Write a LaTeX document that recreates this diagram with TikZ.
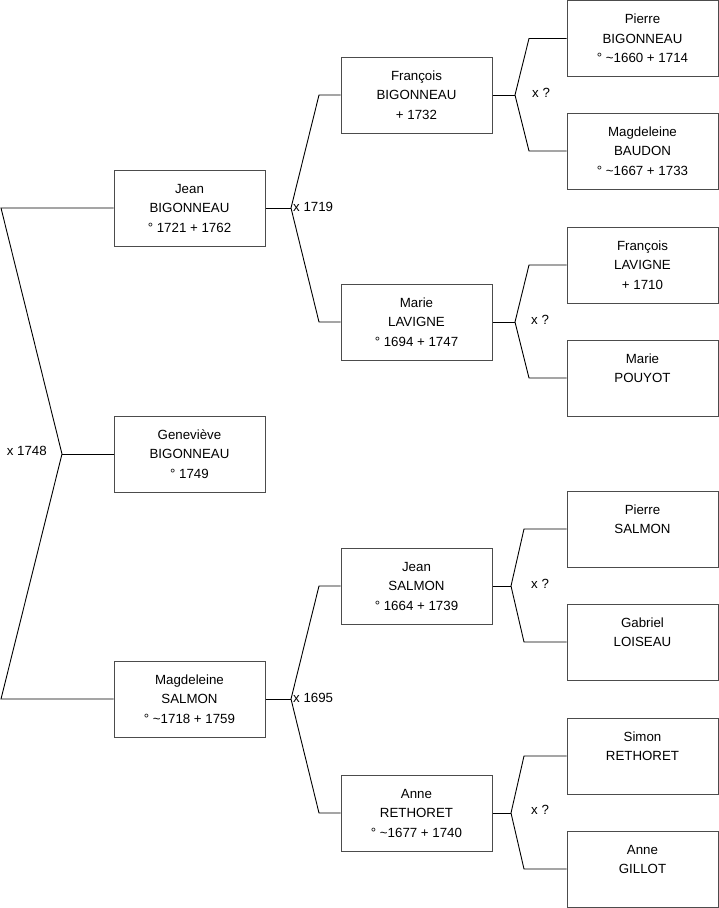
\documentclass[tikz,border=0pt]{standalone}
\usepackage{fontspec}
\setmainfont{Liberation Sans}
\begin{document}
\begin{tikzpicture}[x=1pt,y=-1pt,
 person/.style={draw=black!70, line width=1pt, minimum width=151pt, minimum height=76pt, inner sep=0pt, align=center, font=\fontsize{13.3}{19.5}\selectfont},
 link/.style={draw=black, line width=0.9pt},
 lbl/.style={font=\fontsize{13.3}{15}\selectfont, inner sep=0pt}]
\useasboundingbox (0,0) rectangle (719,908);
% generation 1
\node[person] (jean) at (189.5,208) {Jean\\BIGONNEAU\\° 1721 + 1762};
\node[person] (gene) at (189.5,454) {Geneviève\\BIGONNEAU\\° 1749};
\node[person] (magd) at (189.5,699) {Magdeleine\\SALMON\\° \textasciitilde1718 + 1759};
% generation 2
\node[person] (fran) at (416.5,95) {François\\BIGONNEAU\\+ 1732};
\node[person] (marie) at (416.5,322) {Marie\\LAVIGNE\\° 1694 + 1747};
\node[person] (jeans) at (416.5,586) {Jean\\SALMON\\° 1664 + 1739};
\node[person] (anne) at (416.5,813) {Anne\\RETHORET\\° \textasciitilde1677 + 1740};
% generation 3
\node[person] (pierre) at (642.5,38.5) {Pierre\\BIGONNEAU\\° \textasciitilde1660 + 1714};
\node[person] (baud) at (642.5,151) {Magdeleine\\BAUDON\\° \textasciitilde1667 + 1733};
\node[person] (franl) at (642.5,265) {François\\LAVIGNE\\+ 1710};
\node[person] (pouy) at (642.5,378) {Marie\\POUYOT\\\mbox{}};
\node[person] (pierres) at (642.5,529) {Pierre\\SALMON\\\mbox{}};
\node[person] (gab) at (642.5,642) {Gabriel\\LOISEAU\\\mbox{}};
\node[person] (simon) at (642.5,756) {Simon\\RETHORET\\\mbox{}};
\node[person] (gill) at (642.5,869) {Anne\\GILLOT\\\mbox{}};
% level 1 bracket
\coordinate (a1) at (1,208);
\coordinate (m1) at (62,454);
\coordinate (a2) at (1,699);
\draw[link] (jean.west) -- (a1) -- (m1) -- (a2) -- (magd.west);
\draw[link] (m1) -- (gene.west);
\node[lbl, anchor=east] (l1) at (47,451) {x 1748};
% level 2 upper
\coordinate (p1) at (291,208);
\coordinate (c1) at (319,95);
\coordinate (c2) at (319,322);
\draw[link] (jean.east) -- (p1);
\draw[link] (fran.west) -- (c1) -- (p1) -- (c2) -- (marie.west);
\node[lbl, anchor=west] (l2) at (293,207) {x 1719};
% level 2 lower
\coordinate (p2) at (291,699);
\coordinate (c3) at (319,586);
\coordinate (c4) at (319,813);
\draw[link] (magd.east) -- (p2);
\draw[link] (jeans.west) -- (c3) -- (p2) -- (c4) -- (anne.west);
\node[lbl, anchor=west] (l3) at (293,698) {x 1695};
% level 3
\coordinate (q1) at (515,95);
\coordinate (d1) at (529,38.5);
\coordinate (d2) at (529,151);
\draw[link] (fran.east) -- (q1);
\draw[link] (pierre.west) -- (d1) -- (q1) -- (d2) -- (baud.west);
\node[lbl, anchor=west] (l4) at (532,93) {x ?};
\coordinate (q2) at (515,322);
\coordinate (d3) at (529,265);
\coordinate (d4) at (529,378);
\draw[link] (marie.east) -- (q2);
\draw[link] (franl.west) -- (d3) -- (q2) -- (d4) -- (pouy.west);
\node[lbl, anchor=west] (l5) at (531,320) {x ?};
\coordinate (q3) at (511,586);
\coordinate (d5) at (524,529);
\coordinate (d6) at (524,642);
\draw[link] (jeans.east) -- (q3);
\draw[link] (pierres.west) -- (d5) -- (q3) -- (d6) -- (gab.west);
\node[lbl, anchor=west] (l6) at (531,584) {x ?};
\coordinate (q4) at (511,813);
\coordinate (d7) at (524,756);
\coordinate (d8) at (524,869);
\draw[link] (anne.east) -- (q4);
\draw[link] (simon.west) -- (d7) -- (q4) -- (d8) -- (gill.west);
\node[lbl, anchor=west] (l7) at (531,810) {x ?};
\end{tikzpicture}
\end{document}
